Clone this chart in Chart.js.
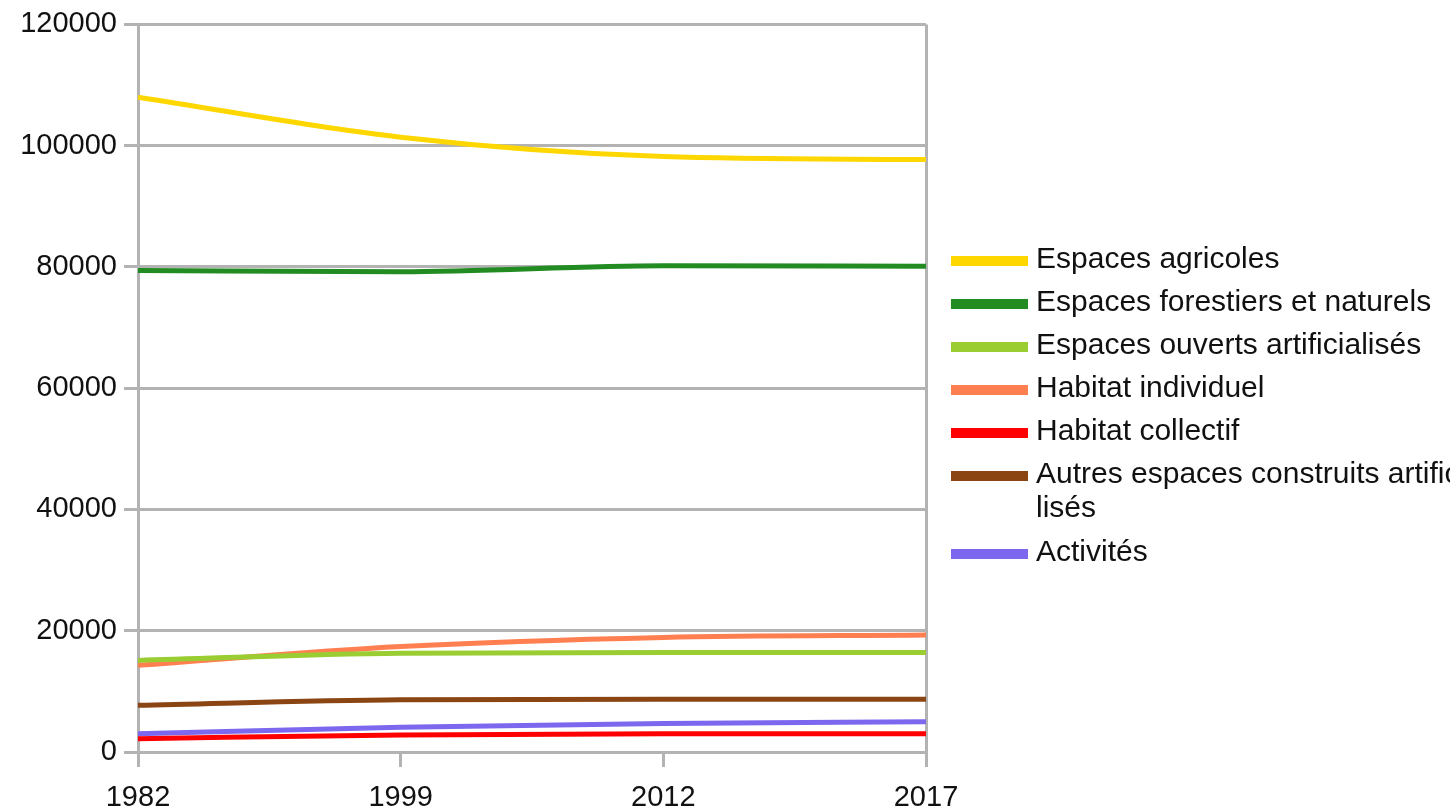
<!DOCTYPE html>
<html>
<head>
<meta charset="utf-8">
<script src="https://cdn.jsdelivr.net/npm/chart.js@4/dist/chart.umd.min.js"></script>
<style>
  body { margin: 0; background: #fff; }
  #wrap { width: 1450px; height: 807px; position: relative; }
</style>
</head>
<body>
<div id="wrap"><canvas id="occupation-chart"></canvas></div>
<script>
// Years on the x axis
const years = ["1982", "1999", "2012", "2017"];

// Series labels and values (ha)
const seriesLabels = [
  "Espaces agricoles",
  "Espaces forestiers et naturels",
  "Espaces ouverts artificialisés",
  "Habitat individuel",
  "Habitat collectif",
  "Autres espaces construits artificia\nlisés",
  "Activités",
];
const agricoles = [108000, 101400, 98200, 97700];
const forestiers = [79400, 79200, 80200, 80100];
const ouverts = [15100, 16300, 16400, 16400];
const habitatIndividuel = [14300, 17400, 18900, 19300];
const habitatCollectif = [2200, 2800, 3000, 3000];
const autresConstruits = [7700, 8600, 8700, 8700];
const activites = [3000, 4100, 4700, 5000];

const seriesValues = [agricoles, forestiers, ouverts, habitatIndividuel, habitatCollectif, autresConstruits, activites];
const seriesColors = ["gold", "forestgreen", "yellowgreen", "coral", "red", "saddlebrown", "mediumslateblue"];

// y axis ticks
const yMin = 0;
const yMax = 120000;
const yStep = 20000;

const FONT = "'Liberation Sans', Arial, sans-serif";
const GRID = "#b3b3b3";

// Legend drawn on the right, one line per series (the long one wraps)
const sideLegend = {
  id: "sideLegend",
  afterDraw(chart) {
    const ctx = chart.ctx;
    ctx.save();
    ctx.font = "30px " + FONT;
    ctx.textBaseline = "middle";
    ctx.textAlign = "left";
    let y = 261;
    chart.data.datasets.forEach((ds) => {
      const lines = ds.label.split("\n");
      ctx.fillStyle = ds.borderColor;
      ctx.fillRect(951, y - 5, 77, 10);
      ctx.fillStyle = "#111";
      lines.forEach((line, i) => ctx.fillText(line, 1036, y - 1 + i * 34));
      y += 43 + (lines.length - 1) * 35;
    });
    ctx.restore();
  },
};

new Chart("occupation-chart", {
  type: "line",
  data: {
    labels: years,
    datasets: seriesLabels.map((label, i) => ({
      label: label,
      data: seriesValues[i],
      borderColor: seriesColors[i],
      backgroundColor: seriesColors[i],
      borderWidth: 5,
      pointRadius: 0,
      cubicInterpolationMode: "monotone",
      fill: false,
    })),
  },
  options: {
    responsive: true,
    maintainAspectRatio: false,
    animation: false,
    layout: { padding: { top: 22, right: 524, left: 0, bottom: 0 } },
    plugins: {
      legend: { display: false },
      tooltip: { enabled: false },
    },
    scales: {
      x: {
        offset: false,
        afterFit: (scale) => { scale.height = 55; },
        grid: {
          color: (c) => (c.index === 0 || c.index === years.length - 1 ? GRID : "rgba(0,0,0,0)"),
          tickColor: GRID,
          lineWidth: 3,
          tickLength: 15,
        },
        border: { display: true, color: GRID, width: 3 },
        ticks: {
          color: "#111",
          font: { family: FONT, size: 29 },
          padding: 14,
          maxRotation: 0,
          autoSkip: false,
        },
      },
      y: {
        min: yMin,
        max: yMax,
        afterFit: (scale) => { scale.width = 138; },
        grid: { color: GRID, lineWidth: 3, tickLength: 14 },
        border: { display: true, color: GRID, width: 3 },
        ticks: {
          stepSize: yStep,
          color: "#111",
          font: { family: FONT, size: 29 },
          padding: 7,
          callback: (v) => String(v),
        },
      },
    },
  },
  plugins: [sideLegend],
});
</script>
</body>
</html>
